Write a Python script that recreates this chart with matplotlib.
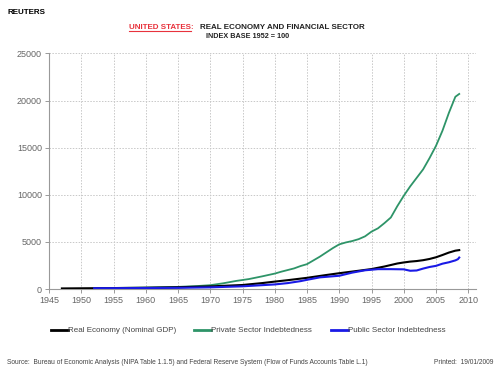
import matplotlib
matplotlib.use("Agg")
import matplotlib.pyplot as plt
from matplotlib.lines import Line2D

plt.rcParams['font.family'] = ['Liberation Sans', 'DejaVu Sans']

# Real economy (nominal GDP), index 1952 = 100
gdp_years = [1947, 1950, 1952, 1955, 1960, 1965, 1970, 1975, 1978, 1980, 1982,
             1985, 1988, 1990, 1993, 1995, 1997, 1999, 2000, 2001, 2002, 2003,
             2004, 2005, 2006, 2007, 2008, 2008.6]
gdp_vals = [75, 90, 100, 115, 145, 200, 290, 440, 640, 800, 950,
            1200, 1500, 1690, 1950, 2130, 2400, 2720, 2830, 2920, 2980, 3070,
            3200, 3380, 3620, 3880, 4080, 4140]

# Private sector indebtedness
priv_years = [1952, 1955, 1960, 1965, 1968, 1970, 1972, 1974, 1976, 1978, 1980,
              1981, 1983, 1984, 1985, 1986, 1987, 1988, 1989, 1990, 1991, 1992,
              1993, 1994, 1995, 1996, 1997, 1998, 1999, 2000, 2001, 2002, 2003,
              2004, 2005, 2006, 2007, 2008, 2008.6]
priv_vals = [100, 125, 170, 240, 330, 420, 620, 870, 1070, 1350, 1650,
             1850, 2200, 2450, 2650, 3050, 3450, 3900, 4350, 4750, 4950, 5100,
             5300, 5600, 6100, 6450, 7000, 7600, 8800, 9900, 10900, 11800, 12700,
             13900, 15200, 16800, 18700, 20400, 20700]

# Public sector indebtedness
pub_years = [1952, 1955, 1960, 1965, 1970, 1975, 1978, 1980, 1982, 1984, 1985,
             1987, 1990, 1992, 1994, 1996, 1998, 2000, 2001, 2002, 2003, 2004,
             2005, 2006, 2007, 2008, 2008.4, 2008.6]
pub_vals = [100, 105, 120, 140, 190, 300, 420, 500, 640, 850, 990,
            1250, 1420, 1750, 2000, 2120, 2120, 2100, 1950, 1980, 2180, 2350,
            2470, 2700, 2850, 3050, 3180, 3350]

series_labels = ['Real Economy (Nominal GDP)', 'Private Sector Indebtedness',
                 'Public Sector Indebtedness']
x_ticks = list(range(1945, 2011, 5))
y_ticks = list(range(0, 25001, 5000))

fig = plt.figure(figsize=(5, 3.76), dpi=100)
ax = fig.add_axes([0.098, 0.231, 0.854, 0.627])

ax.plot(gdp_years, gdp_vals, color='black', lw=1.5, label=series_labels[0], zorder=3)
ax.plot(priv_years, priv_vals, color='#2e9468', lw=1.3, label=series_labels[1], zorder=2)
ax.plot(pub_years, pub_vals, color='#1a1ae6', lw=1.5, label=series_labels[2], zorder=4)

ax.set_xlim(1945, 2011.2)
ax.set_ylim(0, 25000)
ax.set_xticks(x_ticks)
ax.set_yticks(y_ticks)
ax.grid(True, color='#c8c8c8', linestyle=(0, (1.5, 1.5)), lw=0.7)
ax.set_axisbelow(True)
for s in ['top', 'right']:
    ax.spines[s].set_visible(False)
for s in ['left', 'bottom']:
    ax.spines[s].set_color('#999999')
    ax.spines[s].set_linewidth(0.8)
ax.tick_params(labelsize=6.5, labelcolor='#666666', color='#999999',
               length=3, width=0.7, pad=2)

# legend below the plot
leg = fig.legend(loc='center', bbox_to_anchor=(0.496, 0.121), ncol=3, frameon=False,
                 fontsize=5.8, handlelength=2.1, handletextpad=0.0,
                 columnspacing=2.3)
for h in leg.get_lines():
    h.set_linewidth(2.0)
for t in leg.get_texts():
    t.set_color('#444444')

# titles
fig.text(0.014, 0.975, 'REUTERS', fontsize=5.8, fontweight='bold', va='top')
red = fig.text(0.388, 0.927, 'UNITED STATES:', fontsize=5.8, fontweight='bold',
               color='#e8323c', ha='right', va='center')
fig.text(0.399, 0.927, 'REAL ECONOMY AND FINANCIAL SECTOR', fontsize=5.8,
         fontweight='bold', color='#222222', ha='left', va='center')
fig.text(0.496, 0.903, 'INDEX BASE 1952 = 100', fontsize=5.2, fontweight='bold',
         color='#222222', ha='center', va='center')

fig.canvas.draw()
bb = red.get_window_extent().transformed(fig.transFigure.inverted())
fig.add_artist(Line2D([bb.x0, bb.x1 - 0.007], [bb.y0 + 0.001, bb.y0 + 0.001],
                      color='#e8323c', lw=0.8, transform=fig.transFigure))

fig.text(0.014, 0.035, 'Source:  Bureau of Economic Analysis (NIPA Table 1.1.5) and '
         'Federal Reserve System (Flow of Funds Accounts Table L.1)',
         fontsize=4.8, color='#444444', va='center')
fig.text(0.986, 0.035, 'Printed:  19/01/2009', fontsize=4.8, color='#444444',
         ha='right', va='center')

fig.savefig('out.png', dpi=100)
